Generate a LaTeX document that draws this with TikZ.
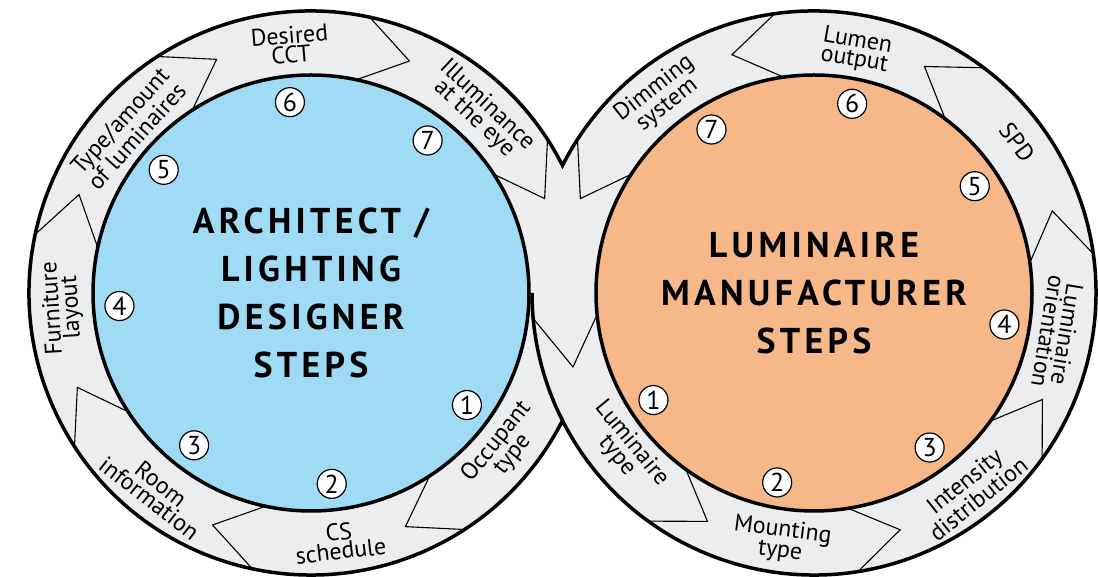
\documentclass[tikz,border=0pt]{standalone}
\usepackage{fontspec}
\setmainfont{PT Sans}
\newfontfamily\headfont[LetterSpace=12]{PT Sans}
\usetikzlibrary{calc}

\definecolor{ringgray}{RGB}{236,237,239}
\definecolor{archblue}{RGB}{159,219,245}
\definecolor{lumorange}{RGB}{246,184,137}

\begin{document}
\begin{tikzpicture}[x=1bp, y=1bp,
        rim/.style={line width=3.5bp},
        chevron/.style={line width=1.1bp},
        stepnum/.style={circle, draw, fill=white, line width=1.2bp, minimum size=29bp,
            inner sep=0pt, font=\fontsize{26}{26}\selectfont},
        band/.style={align=center, inner sep=0pt, font=\fontsize{24}{19}\selectfont},
        heading/.style={align=center, font=\headfont\bfseries\fontsize{36}{48}\selectfont}]
    \useasboundingbox (0,0) rectangle (1098,577);

    \coordinate (L) at (311,284);
    \coordinate (R) at (814,284);
    \pgfmathsetmacro\cut{acos(251.5/282)}

    % grey bands
    \fill[ringgray] (L) circle[radius=282];
    \fill[ringgray] (R) circle[radius=282];

    % arrow shaped dividers between the steps
    \foreach \a in {33,78,123,168,213,258,303}
        \draw[chevron] ($(L)+(\a:218)$) -- ($(L)+(\a-11:252)$) -- ($(L)+(\a:282)$);
    \foreach \a in {8,53,98,147,234,279,324}
        \draw[chevron] ($(R)+(\a:218)$) -- ($(R)+(\a+11:252)$) -- ($(R)+(\a:282)$);
    \draw[chevron] (532,260) -- (573,210) -- ($(R)+(185.7:218)$);

    % outline of both rings
    \draw[rim] (L) ++(\cut:282)
        arc[start angle=\cut, end angle=360-\cut, radius=282]
        arc[start angle=180+\cut, end angle=540-\cut, radius=282] -- cycle;
    \draw[rim] (R) ++(180:282) arc[start angle=180, end angle=180+\cut, radius=282];

    \draw[rim, fill=archblue] (L) circle[radius=218];
    \draw[rim, fill=lumorange] (R) circle[radius=218];

    % step numbers
    \foreach \n/\a in {1/-35.7, 2/276.2, 3/232.5, 4/183.9, 5/140.1, 6/96.3, 7/52.6}
        \node[stepnum] (a\n) at ($(L)+(\a:192)$) {\n};
    \foreach \n/\a in {1/213.7, 2/259, 3/306.8, 4/350.6, 5/33.6, 6/78.6, 7/122.1}
        \node[stepnum] (m\n) at ($(R)+(\a:193)$) {\n};

    % architect / lighting designer
    \node[band, rotate=51.3]  (occupant)  at ($(L)+(-38.7:248)$) {Occupant\\type};
    \node[band, rotate=6.6]   (schedule)  at ($(L)+(276.6:250)$) {CS\\schedule};
    \node[band, rotate=-38.2] (room)      at ($(L)+(231.8:252)$) {Room\\information};
    \node[band, rotate=93.4]  (furniture) at ($(L)+(183.4:249)$) {Furniture\\layout};
    \node[band, rotate=48]    (amount)    at ($(L)+(138:246)$)   {Type/amount\\of luminaires};
    \node[band, rotate=4.8]   (cct)       at ($(L)+(94.8:249)$)  {Desired\\CCT};
    \node[band, rotate=-43.1] (eye)       at ($(L)+(46.9:248)$)  {Illuminance\\at the eye};

    % luminaire manufacturer
    \node[band, rotate=-50.5] (lumtype)   at ($(R)+(219.5:246)$) {Luminaire\\type};
    \node[band, rotate=-7.5]  (mounting)  at ($(R)+(262.5:250)$) {Mounting\\type};
    \node[band, rotate=38.6]  (intensity) at ($(R)+(308.6:252)$) {Intensity\\distribution};
    \node[band, rotate=-99.3] (orient)    at ($(R)+(350.7:247)$) {Luminaire\\orientation};
    \node[band, rotate=-53.4] (spd)       at ($(R)+(36.6:253)$)  {SPD};
    \node[band, rotate=-9.8]  (lumen)     at ($(R)+(80.2:246)$)  {Lumen\\output};
    \node[band, rotate=38]    (dimming)   at ($(R)+(128:249)$)   {Dimming\\system};

    \node[heading] (architect) at (L) {ARCHITECT /\\LIGHTING\\DESIGNER\\STEPS};
    \node[heading] (manufacturer) at (R) {LUMINAIRE\\MANUFACTURER\\STEPS};
\end{tikzpicture}
\end{document}
